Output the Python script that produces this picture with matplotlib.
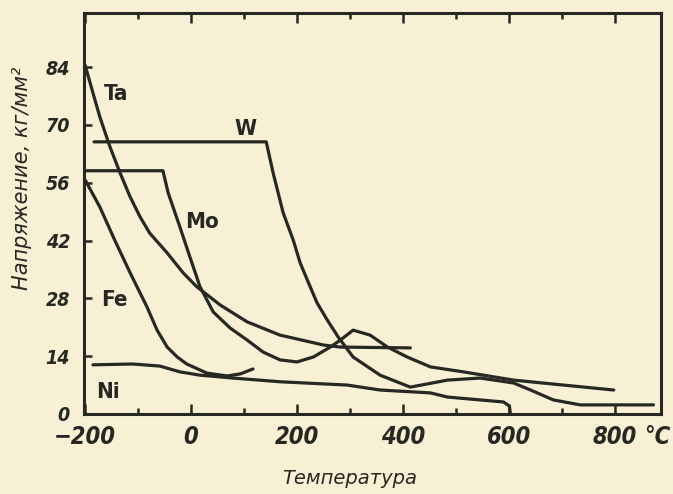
import matplotlib
matplotlib.use("Agg")
import matplotlib.pyplot as plt
from matplotlib.ticker import MultipleLocator, FixedLocator

# Tensile strength of refractory and common metals vs temperature
ta_t = [-200, -185, -172, -153, -134, -115, -96, -78, -45, -15, 11, 55, 106, 168, 250, 282, 414]
ta_s = [84.5, 77.7, 71.9, 64.7, 58.4, 52.6, 47.7, 43.8, 39.0, 34.2, 30.8, 26.4, 22.3, 19.1, 16.7, 16.2, 16.0]

w_t = [-183, 142, 155, 174, 193, 206, 225, 238, 257, 278, 306, 357, 414, 484, 546, 609, 641, 684, 735, 873]
w_s = [65.9, 65.9, 58.4, 48.7, 42.1, 36.6, 30.8, 26.9, 22.8, 18.6, 13.8, 9.4, 6.5, 8.2, 8.7, 7.5, 5.8, 3.4, 2.2, 2.2]

mo_t = [-200, -53, -43, -21, -2, 17, 42, 74, 106, 136, 168, 200, 231, 263, 282, 306, 338, 371,
        408, 452, 514, 609, 703, 798]
mo_s = [58.9, 58.9, 53.5, 45.3, 38.0, 30.8, 24.7, 20.8, 17.9, 15.0, 13.1, 12.6, 13.8, 16.2, 17.9,
        20.3, 19.1, 16.2, 13.8, 11.4, 10.2, 8.2, 7.0, 5.8]

fe_t = [-200, -172, -144, -115, -83, -64, -45, -26, -8, 30, 68, 93, 117]
fe_s = [56.7, 50.1, 42.1, 34.2, 25.9, 20.3, 16.2, 13.8, 12.1, 9.9, 9.2, 9.7, 10.9]

ni_t = [-185, -110, -59, -21, 17, 79, 168, 295, 357, 452, 484, 546, 590, 601, 603]
ni_s = [11.9, 12.1, 11.6, 10.2, 9.4, 8.7, 7.8, 7.0, 5.8, 5.1, 4.1, 3.4, 2.9, 1.9, 0.0]

x_ticks = [-200, 0, 200, 400, 600, 800]
y_ticks = [0, 14, 28, 42, 56, 70, 84]

curve_labels = [("Ta", -142, 77.5), ("W", 102, 69.0), ("Mo", 21, 46.5),
                ("Fe", -144, 27.6), ("Ni", -157, 5.3)]

paper = "#f7f0d4"
ink = "#272822"

fig = plt.figure(figsize=(6.73, 4.94), dpi=100, facecolor=paper)
ax = fig.add_axes([0.1248, 0.162, 0.8572, 0.8117])
ax.set_facecolor(paper)

for t, s in [(ta_t, ta_s), (w_t, w_s), (mo_t, mo_s), (fe_t, fe_s), (ni_t, ni_s)]:
    ax.plot(t, s, color=ink, lw=2.3, solid_joinstyle="round", solid_capstyle="round")

ax.set_xlim(-202, 887)
ax.set_ylim(0, 97.1)

lab_font = dict(family="DejaVu Sans", fontstretch="condensed", fontweight="bold")
for name, x, y in curve_labels:
    ax.text(x, y, name, ha="center", va="center", fontsize=16, color=ink, **lab_font)

ax.xaxis.set_major_locator(FixedLocator(x_ticks))
ax.xaxis.set_minor_locator(MultipleLocator(100))
ax.yaxis.set_major_locator(FixedLocator(y_ticks))
ax.set_xticklabels(["\u2212200", "0", "200", "400", "600", "800"])
ax.set_yticklabels([str(v) for v in y_ticks])

ax.tick_params(axis="x", which="major", direction="in", length=7, width=1.8,
               top=True, pad=8, labelsize=17, colors=ink)
ax.tick_params(axis="x", which="minor", direction="in", length=4, width=1.8,
               top=True, colors=ink)
ax.tick_params(axis="y", which="major", direction="in", length=6, width=1.8,
               right=False, pad=10, labelsize=14, colors=ink)

tick_font = dict(family="DejaVu Sans", stretch="condensed", style="italic", weight="bold")
for lab in ax.get_xticklabels() + ax.get_yticklabels():
    lab.set_fontfamily(tick_font["family"])
    lab.set_fontstretch(tick_font["stretch"])
    lab.set_fontstyle(tick_font["style"])
    lab.set_fontweight(tick_font["weight"])

for sp in ax.spines.values():
    sp.set_linewidth(2.2)
    sp.set_color(ink)

fig.text(657 / 673, 1 - 437 / 494, "\u00b0C", ha="center", va="center", fontsize=17,
         color=ink, **tick_font)
fig.text(22 / 673, 1 - 178 / 494, "Напряжение, кг/мм\u00b2", rotation=90, ha="center",
         va="center", fontsize=15, color=ink, family="DejaVu Sans", style="italic")
fig.text(350 / 673, 1 - 478 / 494, "Температура", ha="center", va="center", fontsize=14,
         color=ink, family="DejaVu Sans", style="italic")

fig.savefig("out.png", dpi=100, facecolor=paper)
